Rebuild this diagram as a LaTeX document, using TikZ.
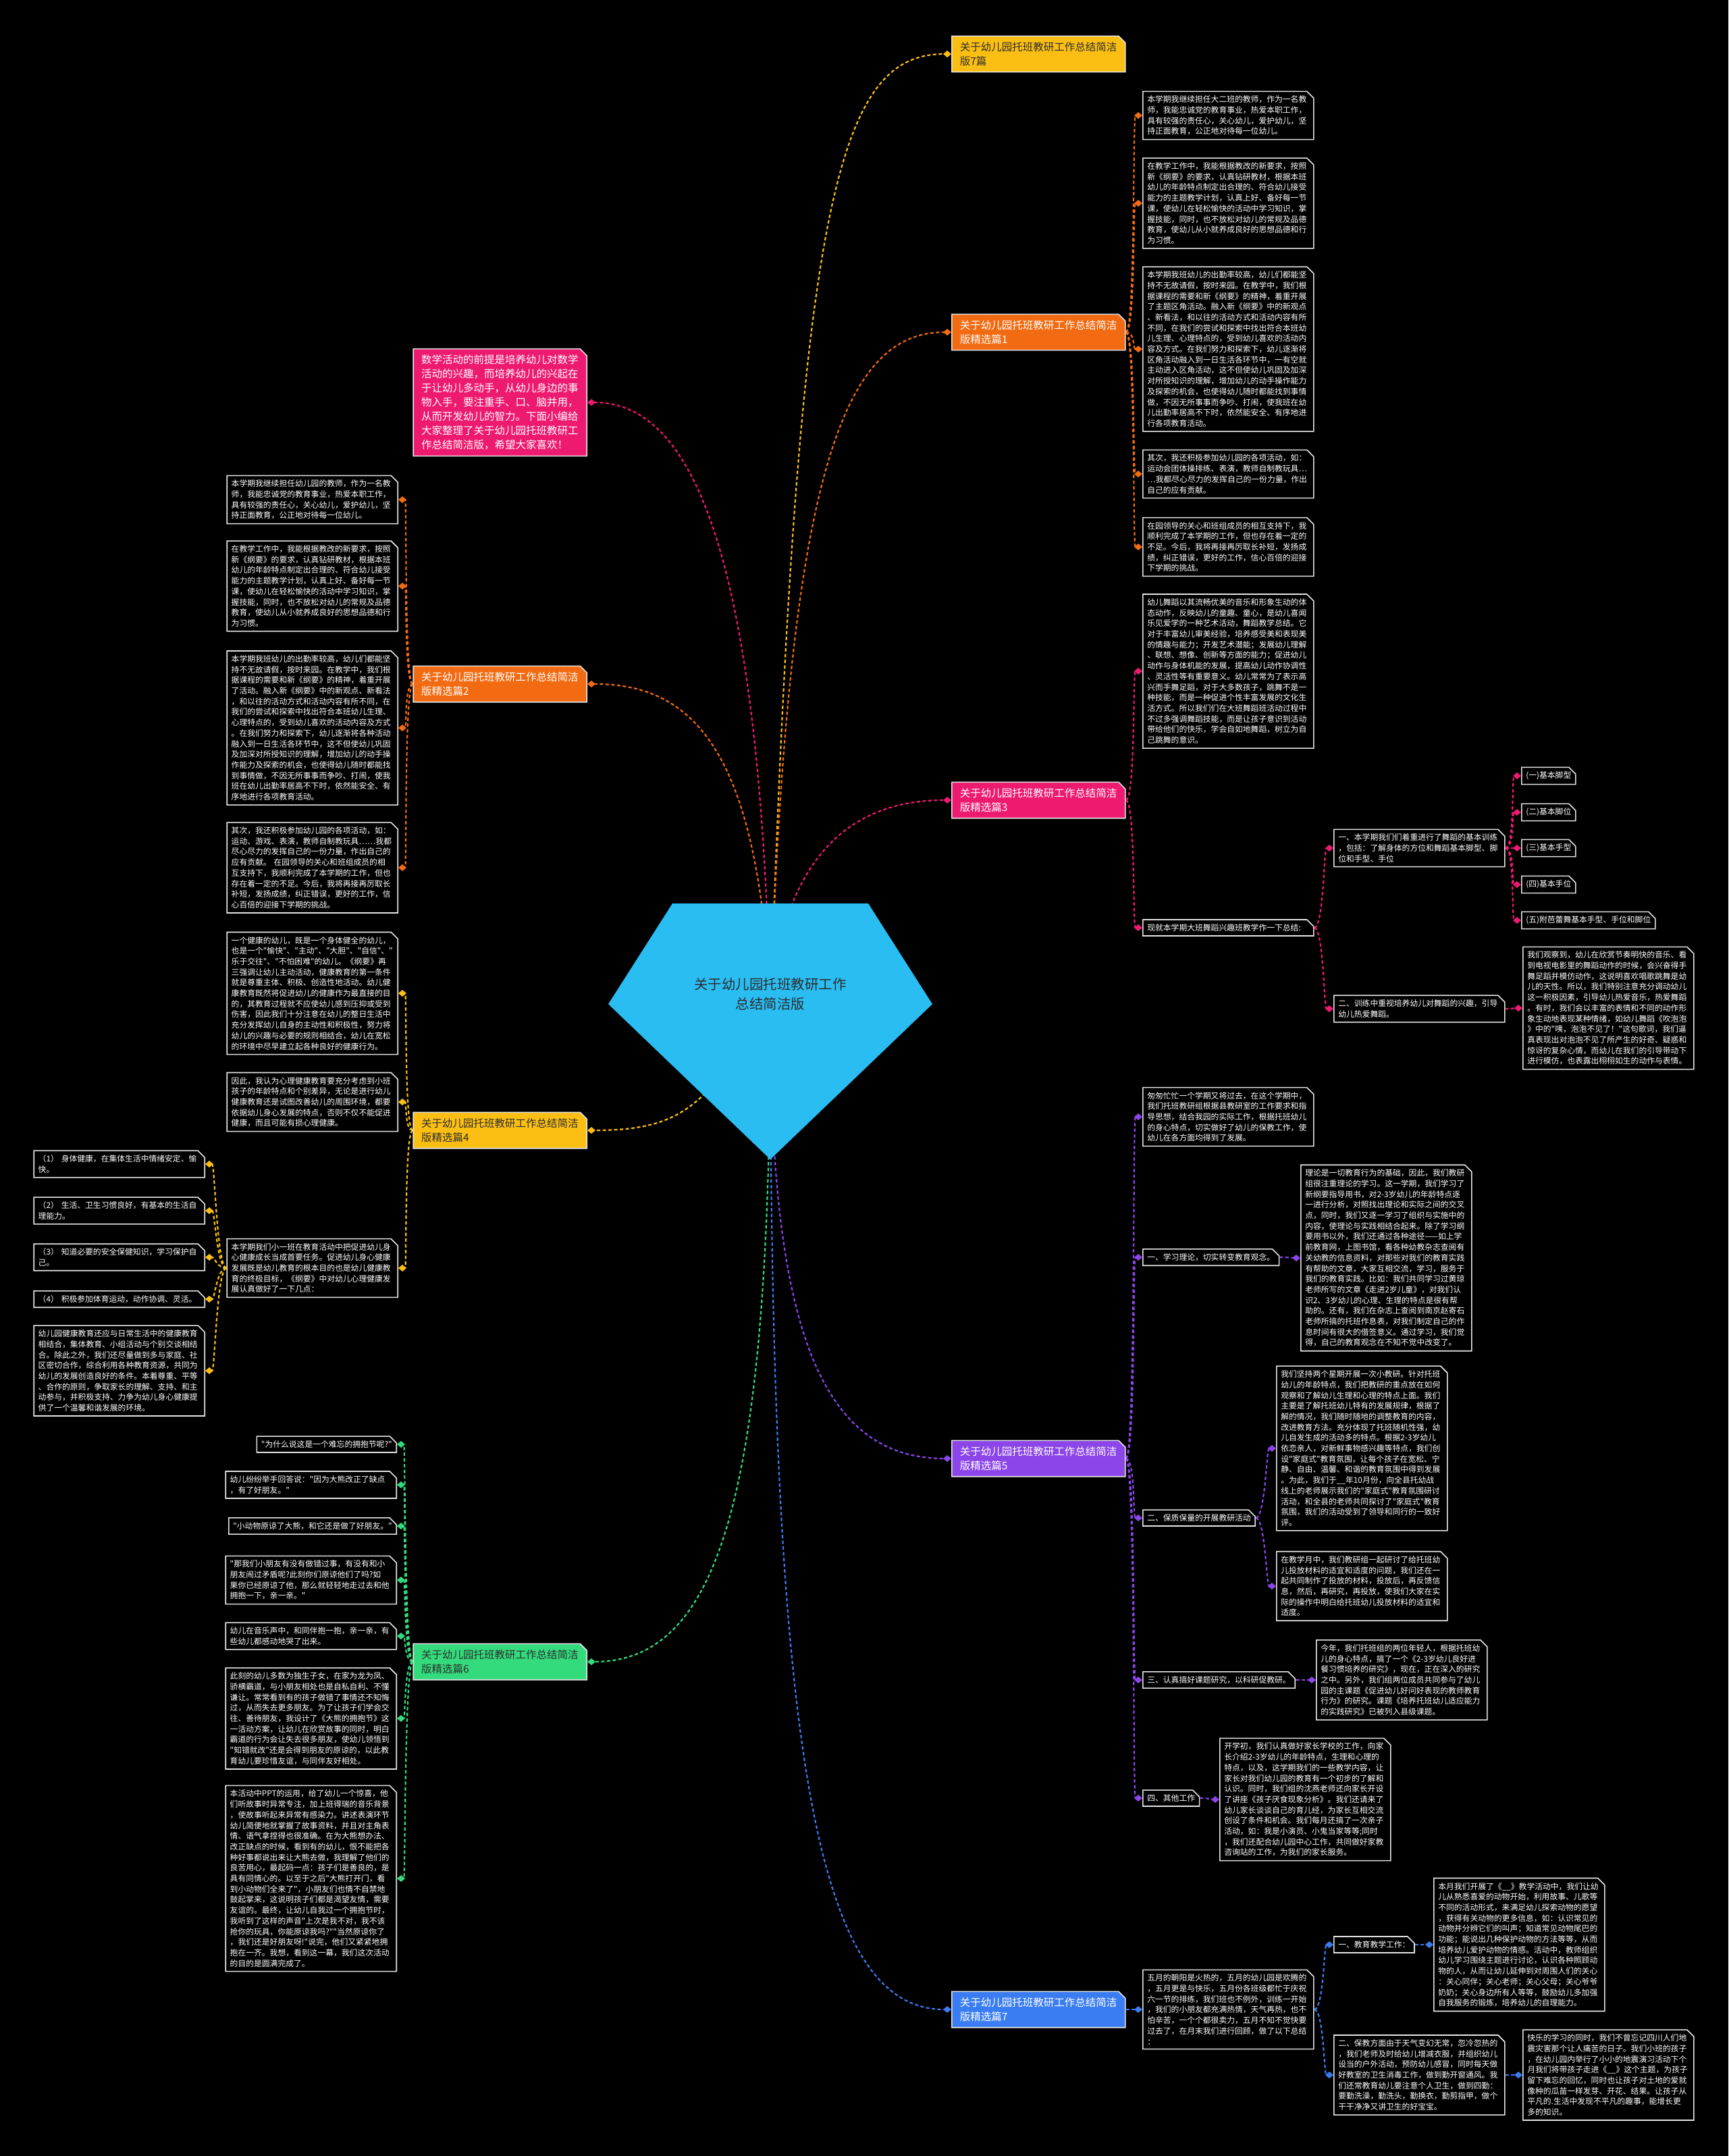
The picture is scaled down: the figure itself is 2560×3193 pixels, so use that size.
\documentclass[tikz,border=0pt]{standalone}
\usepackage{fontspec}
\setmainfont{Noto Sans CJK SC}[Ligatures=TeXOff]
\usetikzlibrary{shapes.misc,arrows.meta}
\pgfdeclarelayer{bg}
\pgfsetlayers{bg,main}
\definecolor{cAmber}{HTML}{FBBF14}
\definecolor{cOrange}{HTML}{F26B12}
\definecolor{cPink}{HTML}{EE1A70}
\definecolor{cPurple}{HTML}{8B45E8}
\definecolor{cBlue}{HTML}{3A7DF2}
\definecolor{cGreen}{HTML}{33DB7C}
\definecolor{cCyan}{HTML}{29BDF2}
\definecolor{cBorder}{HTML}{E4E4E4}
\definecolor{cDark}{HTML}{2E2E2E}
\begin{document}
\begin{tikzpicture}[x=1pt,y=-1pt,
  every node/.style={inner sep=0pt},
  basebox/.style={chamfered rectangle, chamfered rectangle corners=north east,
     chamfered rectangle xsep=5pt, chamfered rectangle ysep=5pt,
     draw=cBorder, line width=1.6pt, align=left},
  leaf/.style={basebox, fill=black, text=white, inner xsep=1.5pt, inner ysep=1.5pt,
     font=\fontsize{11.8}{15.7}\selectfont},
  wleaf/.style={leaf, text width=240pt},
  branch/.style={basebox, inner xsep=7pt, inner ysep=4pt, text width=233pt,
     font=\fontsize{15.5}{21}\selectfont},
  link/.style={dash pattern=on 5pt off 3.5pt, line width=2.2pt,
     -{Diamond[length=12pt,width=10pt]}},
]
\begin{pgfonlayer}{bg}
\fill[black] (0,0) rectangle (2560,3193);
\end{pgfonlayer}
\useasboundingbox (0,0) rectangle (2560,3193);

% centre
\fill[cCyan] (996,1338) -- (1286,1338) -- (1381,1487) -- (1141,1717) -- (901,1487) -- cycle;
\coordinate (c0) at (1141,1500);
\node[align=center, text=cDark, font=\fontsize{20.5}{29}\selectfont] (center) at (1141,1472)
  {关于幼儿园托班教研工作\\总结简洁版};

% ---------------- right branches ----------------
\node[branch, fill=cAmber, text=cDark, anchor=west] (T) at (1409,80) {关于幼儿园托班教研工作总结简洁\\版7篇};
\node[branch, fill=cOrange, text=white, anchor=west] (B1) at (1409,492) {关于幼儿园托班教研工作总结简洁\\版精选篇1};
\node[branch, fill=cPink, text=white, anchor=west] (B3) at (1409,1185) {关于幼儿园托班教研工作总结简洁\\版精选篇3};
\node[branch, fill=cPurple, text=white, anchor=west] (B5) at (1409,2160) {关于幼儿园托班教研工作总结简洁\\版精选篇5};
\node[branch, fill=cBlue, text=white, anchor=west] (B7) at (1409,2976) {关于幼儿园托班教研工作总结简洁\\版精选篇7};

% ---------------- left branches ----------------
\node[branch, fill=cPink, text=white, anchor=east] (intro) at (870,596) {数学活动的前提是培养幼儿对数学\\
活动的兴趣，而培养幼儿的兴起在\\
于让幼儿多动手，从幼儿身边的事\\
物入手，要注重手、口、脑并用，\\
从而开发幼儿的智力。下面小编给\\
大家整理了关于幼儿园托班教研工\\
作总结简洁版，希望大家喜欢！};
\node[branch, fill=cOrange, text=white, anchor=east] (B2) at (870,1013) {关于幼儿园托班教研工作总结简洁\\版精选篇2};
\node[branch, fill=cAmber, text=cDark, anchor=east] (B4) at (870,1674) {关于幼儿园托班教研工作总结简洁\\版精选篇4};
\node[branch, fill=cGreen, text=cDark, anchor=east] (B6) at (870,2461) {关于幼儿园托班教研工作总结简洁\\版精选篇6};

% ---------------- 篇1 ----------------
\node[wleaf, anchor=west] (r1a) at (1692,171) {本学期我继续担任大二班的教师，作为一名教\\
师，我能忠诚党的教育事业，热爱本职工作，\\
具有较强的责任心，关心幼儿，爱护幼儿，坚\\
持正面教育，公正地对待每一位幼儿。};
\node[wleaf, anchor=west] (r1b) at (1692,301) {在教学工作中，我能根据教改的新要求，按照\\
新《纲要》的要求，认真钻研教材，根据本班\\
幼儿的年龄特点制定出合理的、符合幼儿接受\\
能力的主题教学计划，认真上好、备好每一节\\
课，使幼儿在轻松愉快的活动中学习知识，掌\\
握技能，同时，也不放松对幼儿的常规及品德\\
教育，使幼儿从小就养成良好的思想品德和行\\
为习惯。};
\node[wleaf, anchor=west] (r1c) at (1692,517) {本学期我班幼儿的出勤率较高，幼儿们都能坚\\
持不无故请假，按时来园。在教学中，我们根\\
据课程的需要和新《纲要》的精神，着重开展\\
了主题区角活动。融入新《纲要》中的新观点\\
、新看法，和以往的活动方式和活动内容有所\\
不同，在我们的尝试和探索中找出符合本班幼\\
儿生理、心理特点的，受到幼儿喜欢的活动内\\
容及方式。在我们努力和探索下，幼儿逐渐将\\
区角活动融入到一日生活各环节中，一有空就\\
主动进入区角活动，这不但使幼儿巩固及加深\\
对所授知识的理解，增加幼儿的动手操作能力\\
及探索的机会，也使得幼儿随时都能找到事情\\
做，不因无所事事而争吵、打闹，使我班在幼\\
儿出勤率居高不下时，依然能安全、有序地进\\
行各项教育活动。};
\node[wleaf, anchor=west] (r1d) at (1692,702) {其次，我还积极参加幼儿园的各项活动，如：\\
运动会团体操排练、表演，教师自制教玩具…\\
…我都尽心尽力的发挥自己的一份力量，作出\\
自己的应有贡献。};
\node[wleaf, anchor=west] (r1e) at (1692,810) {在园领导的关心和班组成员的相互支持下，我\\
顺利完成了本学期的工作，但也存在着一定的\\
不足。今后，我将再接再厉取长补短，发扬成\\
绩，纠正错误，更好的工作，信心百倍的迎接\\
下学期的挑战。};

% ---------------- 篇3 ----------------
\node[wleaf, anchor=west] (r3a) at (1692,994) {幼儿舞蹈以其流畅优美的音乐和形象生动的体\\
态动作，反映幼儿的童趣、童心，是幼儿喜闻\\
乐见爱学的一种艺术活动，舞蹈教学总结。它\\
对于丰富幼儿审美经验，培养感受美和表现美\\
的情趣与能力；开发艺术潜能；发展幼儿理解\\
、联想、想像、创新等方面的能力；促进幼儿\\
动作与身体机能的发展，提高幼儿动作协调性\\
、灵活性等有重要意义。幼儿常常为了表示高\\
兴而手舞足蹈，对于大多数孩子，跳舞不是一\\
种技能，而是一种促进个性丰富发展的文化生\\
活方式。所以我们们在大班舞蹈班活动过程中\\
不过多强调舞蹈技能，而是让孩子意识到活动\\
带给他们的快乐，学会自如地舞蹈，树立为自\\
己跳舞的意识。};
\node[wleaf, anchor=west] (r3b) at (1692,1374) {现就本学期大班舞蹈兴趣班教学作一下总结:};
\node[wleaf, anchor=west] (r3b1) at (1975,1256) {一、本学期我们们着重进行了舞蹈的基本训练\\
，包括：了解身体的方位和舞蹈基本脚型、脚\\
位和手型、手位};
\node[leaf, anchor=west] (r3b1a) at (2253,1149) {(一)基本脚型};
\node[leaf, anchor=west] (r3b1b) at (2253,1203) {(二)基本脚位};
\node[leaf, anchor=west] (r3b1c) at (2253,1256) {(三)基本手型};
\node[leaf, anchor=west] (r3b1d) at (2253,1310) {(四)基本手位};
\node[leaf, anchor=west] (r3b1e) at (2253,1363) {(五)附芭蕾舞基本手型、手位和脚位};
\node[wleaf, anchor=west] (r3b2) at (1975,1494) {二、训练中重视培养幼儿对舞蹈的兴趣，引导\\
幼儿热爱舞蹈。};
\node[wleaf, anchor=west] (r3b2a) at (2255,1493) {我们观察到，幼儿在欣赏节奏明快的音乐、看\\
到电视电影里的舞蹈动作的时候，会兴奋得手\\
舞足蹈并模仿动作，这说明喜欢唱歌跳舞是幼\\
儿的天性。所以，我们特别注意充分调动幼儿\\
这一积极因素，引导幼儿热爱音乐，热爱舞蹈\\
。有时，我们会以丰富的表情和不同的动作形\\
象生动地表现某种情绪，如幼儿舞蹈《吹泡泡\\
》中的"咦，泡泡不见了！"这句歌词，我们逼\\
真表现出对泡泡不见了所产生的好奇、疑惑和\\
惊讶的复杂心情，而幼儿在我们的引导带动下\\
进行模仿，也表露出栩栩如生的动作与表情。};

% ---------------- 篇5 ----------------
\node[wleaf, anchor=west] (r5a) at (1692,1654) {匆匆忙忙一个学期又将过去，在这个学期中，\\
我们托班教研组根据县教研室的工作要求和指\\
导思想，结合我园的实际工作，根据托班幼儿\\
的身心特点，切实做好了幼儿的保教工作，使\\
幼儿在各方面均得到了发展。};
\node[leaf, anchor=west] (r5b) at (1692,1862) {一、学习理论，切实转变教育观念。};
\node[wleaf, anchor=west] (r5b1) at (1926,1863) {理论是一切教育行为的基础，因此，我们教研\\
组很注重理论的学习。这一学期，我们学习了\\
新纲要指导用书，对2-3岁幼儿的年龄特点逐\\
一进行分析，对照找出理论和实际之间的交叉\\
点，同时，我们又逐一学习了组织与实施中的\\
内容，使理论与实践相结合起来。除了学习纲\\
要用书以外，我们还通过各种途径——如上学\\
前教育网，上图书馆，看各种幼教杂志查阅有\\
关幼教的信息资料，对那些对我们的教育实践\\
有帮助的文章，大家互相交流，学习，服务于\\
我们的教育实践。比如：我们共同学习过黄琼\\
老师所写的文章《走进2岁儿童》，对我们认\\
识2、3岁幼儿的心理、生理的特点是很有帮\\
助的。还有，我们在杂志上查阅到南京赵寄石\\
老师所搞的托班作息表，对我们制定自己的作\\
息时间有很大的借签意义。通过学习，我们觉\\
得，自己的教育观念在不知不觉中改变了。};
\node[leaf, anchor=west] (r5c) at (1692,2248) {二、保质保量的开展教研活动};
\node[wleaf, anchor=west] (r5c1) at (1890,2145) {我们坚持两个星期开展一次小教研。针对托班\\
幼儿的年龄特点，我们把教研的重点放在如何\\
观察和了解幼儿生理和心理的特点上面。我们\\
主要是了解托班幼儿特有的发展规律，根据了\\
解的情况，我们随时随地的调整教育的内容，\\
改进教育方法。充分体现了托班随机性强，幼\\
儿自发生成的活动多的特点。根据2-3岁幼儿\\
依恋亲人，对新鲜事物感兴趣等特点，我们创\\
设"家庭式"教育氛围，让每个孩子在宽松、宁\\
静、自由、温馨、和谐的教育氛围中得到发展\\
。为此，我们于\_\_年10月份，向全县托幼战\\
线上的老师展示我们的"家庭式"教育氛围研讨\\
活动，和全县的老师共同探讨了"家庭式"教育\\
氛围，我们的活动受到了领导和同行的一致好\\
评。};
\node[wleaf, anchor=west] (r5c2) at (1890,2349) {在教学月中，我们教研组一起研讨了给托班幼\\
儿投放材料的适宜和适度的问题，我们还在一\\
起共同制作了投放的材料，投放后，再反馈信\\
息，然后，再研究，再投放，使我们大家在实\\
际的操作中明白给托班幼儿投放材料的适宜和\\
适度。};
\node[leaf, anchor=west] (r5d) at (1692,2488) {三、认真搞好课题研究，以科研促教研。};
\node[wleaf, anchor=west] (r5d1) at (1949,2488) {今年，我们托班组的两位年轻人，根据托班幼\\
儿的身心特点，搞了一个《2-3岁幼儿良好进\\
餐习惯培养的研究》，现在，正在深入的研究\\
之中。另外，我们组两位成员共同参与了幼儿\\
园的主课题《促进幼儿好问好表现的教师教育\\
行为》的研究。课题《培养托班幼儿适应能力\\
的实践研究》已被列入县级课题。};
\node[leaf, anchor=west] (r5e) at (1692,2663) {四、其他工作};
\node[wleaf, anchor=west] (r5e1) at (1806,2665) {开学初，我们认真做好家长学校的工作，向家\\
长介绍2-3岁幼儿的年龄特点，生理和心理的\\
特点，以及，这学期我们的一些教学内容，让\\
家长对我们幼儿园的教育有一个初步的了解和\\
认识。同时，我们组的沈燕老师还向家长开设\\
了讲座《孩子厌食现象分析》。我们还请来了\\
幼儿家长谈谈自己的育儿经，为家长互相交流\\
创设了条件和机会。我们每月还搞了一次亲子\\
活动，如：我是小演员、小鬼当家等等;同时\\
，我们还配合幼儿园中心工作，共同做好家教\\
咨询站的工作，为我们的家长服务。};

% ---------------- 篇7 ----------------
\node[wleaf, anchor=west] (r7a) at (1692,2976) {五月的朝阳是火热的，五月的幼儿园是欢腾的\\
，五月更是与快乐，五月份各班级都忙于庆祝\\
六一节的排练，我们班也不例外，训练一开始\\
，我们的小朋友都充满热情，天气再热，也不\\
怕辛苦，一个个都很卖力，五月不知不觉快要\\
过去了，在月末我们进行回顾，做了以下总结\\
：};
\node[leaf, anchor=west] (r7a1) at (1975,2880) {一、教育教学工作：};
\node[wleaf, anchor=west] (r7a1a) at (2123,2880) {本月我们开展了《\_\_》教学活动中，我们让幼\\
儿从熟悉喜爱的动物开始，利用故事、儿歌等\\
不同的活动形式，来满足幼儿探索动物的愿望\\
，获得有关动物的更多信息，如：认识常见的\\
动物并分辨它们的叫声；知道常见动物尾巴的\\
功能；能说出几种保护动物的方法等等，从而\\
培养幼儿爱护动物的情感。活动中，教师组织\\
幼儿学习围绕主题进行讨论，认识各种照顾动\\
物的人，从而让幼儿延伸到对周围人们的关心\\
：关心同伴；关心老师；关心父母；关心爷爷\\
奶奶；关心身边所有人等等，鼓励幼儿多加强\\
自我服务的锻炼，培养幼儿的自理能力。};
\node[wleaf, anchor=west] (r7a2) at (1975,3073) {二、保教方面由于天气变幻无常，忽冷忽热的\\
，我们老师及时给幼儿增减衣服，并组织幼儿\\
设当的户外活动，预防幼儿感冒，同时每天做\\
好教室的卫生消毒工作，做到勤开窗通风。我\\
们还常教育幼儿要注意个人卫生，做到四勤：\\
要勤洗澡，勤洗头，勤换衣，勤剪指甲，做个\\
干干净净又讲卫生的好宝宝。};
\node[wleaf, anchor=west] (r7a2a) at (2255,3073) {快乐的学习的同时，我们不曾忘记四川人们地\\
震灾害那个让人痛苦的日子。我们小班的孩子\\
，在幼儿园内举行了小小的地震演习活动下个\\
月我们将带孩子走进《\_\_》这个主题，为孩子\\
留下难忘的回忆，同时也让孩子对土地的爱就\\
像种的瓜苗一样发芽、开花、结果。让孩子从\\
平凡的.生活中发现不平凡的趣事，能增长更\\
多的知识。};

% ---------------- 篇2 ----------------
\node[wleaf, anchor=east] (l2a) at (590,740) {本学期我继续担任幼儿园的教师，作为一名教\\
师，我能忠诚党的教育事业，热爱本职工作，\\
具有较强的责任心，关心幼儿，爱护幼儿，坚\\
持正面教育，公正地对待每一位幼儿。};
\node[wleaf, anchor=east] (l2b) at (590,868) {在教学工作中，我能根据教改的新要求，按照\\
新《纲要》的要求，认真钻研教材，根据本班\\
幼儿的年龄特点制定出合理的、符合幼儿接受\\
能力的主题教学计划，认真上好、备好每一节\\
课，使幼儿在轻松愉快的活动中学习知识，掌\\
握技能，同时，也不放松对幼儿的常规及品德\\
教育，使幼儿从小就养成良好的思想品德和行\\
为习惯。};
\node[wleaf, anchor=east] (l2c) at (590,1078) {本学期我班幼儿的出勤率较高，幼儿们都能坚\\
持不无故请假，按时来园。在教学中，我们根\\
据课程的需要和新《纲要》的精神，着重开展\\
了活动。融入新《纲要》中的新观点、新看法\\
，和以往的活动方式和活动内容有所不同，在\\
我们的尝试和探索中找出符合本班幼儿生理、\\
心理特点的，受到幼儿喜欢的活动内容及方式\\
。在我们努力和探索下，幼儿逐渐将各种活动\\
融入到一日生活各环节中，这不但使幼儿巩固\\
及加深对所授知识的理解，增加幼儿的动手操\\
作能力及探索的机会，也使得幼儿随时都能找\\
到事情做，不因无所事事而争吵、打闹，使我\\
班在幼儿出勤率居高不下时，依然能安全、有\\
序地进行各项教育活动。};
\node[wleaf, anchor=east] (l2d) at (590,1285) {其次，我还积极参加幼儿园的各项活动，如：\\
运动、游戏、表演，教师自制教玩具……我都\\
尽心尽力的发挥自己的一份力量，作出自己的\\
应有贡献。 在园领导的关心和班组成员的相\\
互支持下，我顺利完成了本学期的工作，但也\\
存在着一定的不足。今后，我将再接再厉取长\\
补短，发扬成绩，纠正错误，更好的工作，信\\
心百倍的迎接下学期的挑战。};

% ---------------- 篇4 ----------------
\node[wleaf, anchor=east] (l4a) at (590,1471) {一个健康的幼儿，既是一个身体健全的幼儿，\\
也是一个"愉快"、"主动"、"大胆"、"自信"、"\\
乐于交往"、"不怕困难"的幼儿。《纲要》再\\
三强调让幼儿主动活动，健康教育的第一条件\\
就是尊重主体、积极、创造性地活动。幼儿健\\
康教育既然将促进幼儿的健康作为最直接的目\\
的，其教育过程就不应使幼儿感到压抑或受到\\
伤害，因此我们十分注意在幼儿的整日生活中\\
充分发挥幼儿自身的主动性和积极性，努力将\\
幼儿的兴趣与必要的规则相结合，幼儿在宽松\\
的环境中尽早建立起各种良好的健康行为。};
\node[wleaf, anchor=east] (l4b) at (590,1632) {因此，我认为心理健康教育要充分考虑到小班\\
孩子的年龄特点和个别差异，无论是进行幼儿\\
健康教育还是试图改善幼儿的周围环境，都要\\
依据幼儿身心发展的特点，否则不仅不能促进\\
健康，而且可能有损心理健康。};
\node[wleaf, anchor=east] (l4c) at (590,1878) {本学期我们小一班在教育活动中把促进幼儿身\\
心健康成长当成首要任务。促进幼儿身心健康\\
发展既是幼儿教育的根本目的也是幼儿健康教\\
育的终极目标，《纲要》中对幼儿心理健康发\\
展认真做好了一下几点：};
\node[wleaf, anchor=east] (l4c1) at (304,1724) {（1） 身体健康，在集体生活中情绪安定、愉\\快。};
\node[wleaf, anchor=east] (l4c2) at (304,1793) {（2） 生活、卫生习惯良好，有基本的生活自\\理能力。};
\node[wleaf, anchor=east] (l4c3) at (304,1862) {（3） 知道必要的安全保健知识，学习保护自\\己。};
\node[wleaf, anchor=east] (l4c4) at (304,1924) {（4） 积极参加体育运动，动作协调、灵活。};
\node[wleaf, anchor=east] (l4c5) at (304,2030) {幼儿园健康教育还应与日常生活中的健康教育\\
相结合，集体教育、小组活动与个别交谈相结\\
合。除此之外，我们还尽量做到多与家庭、社\\
区密切合作，综合利用各种教育资源，共同为\\
幼儿的发展创造良好的条件。本着尊重、平等\\
、合作的原则，争取家长的理解、支持、和主\\
动参与，并积极支持、力争为幼儿身心健康提\\
供了一个温馨和谐发展的环境。};

% ---------------- 篇6 ----------------
\node[leaf, anchor=east] (l6a) at (588,2139) {"为什么说这是一个难忘的拥抱节呢?"};
\node[wleaf, anchor=east] (l6b) at (588,2199) {幼儿纷纷举手回答说："因为大熊改正了缺点\\，有了好朋友。"};
\node[leaf, anchor=east] (l6c) at (588,2260) {"小动物原谅了大熊，和它还是做了好朋友。"};
\node[wleaf, anchor=east] (l6d) at (588,2340) {"那我们小朋友有没有做错过事，有没有和小\\
朋友闹过矛盾呢?此刻你们原谅他们了吗?如\\
果你已经原谅了他，那么就轻轻地走过去和他\\
拥抱一下，亲一亲。"};
\node[wleaf, anchor=east] (l6e) at (588,2423) {幼儿在音乐声中，和同伴抱一抱，亲一亲，有\\
些幼儿都感动地哭了出来。};
\node[wleaf, anchor=east] (l6f) at (588,2545) {此刻的幼儿多数为独生子女，在家为龙为凤、\\
骄横霸道，与小朋友相处也是自私自利、不懂\\
谦让。常常看到有的孩子做错了事情还不知悔\\
过，从而失去更多朋友。为了让孩子们学会交\\
往、善待朋友，我设计了《大熊的拥抱节》这\\
一活动方案，让幼儿在欣赏故事的同时，明白\\
霸道的行为会让失去很多朋友，使幼儿领悟到\\
"知错就改"还是会得到朋友的原谅的，以此教\\
育幼儿要珍惜友谊，与同伴友好相处。};
\node[wleaf, anchor=east] (l6g) at (588,2782) {本活动中PPT的运用，给了幼儿一个惊喜，他\\
们听故事时异常专注，加上班得瑞的音乐背景\\
，使故事听起来异常有感染力。讲述表演环节\\
幼儿简便地就掌握了故事资料，并且对主角表\\
情、语气拿捏得也很准确。在为大熊想办法、\\
改正缺点的时候，看到有的幼儿，恨不能把各\\
种好事都说出来让大熊去做，我理解了他们的\\
良苦用心，最起码一点：孩子们是善良的，是\\
具有同情心的。以至于之后"大熊打开门，看\\
到小动物们全来了"，小朋友们也情不自禁地\\
鼓起掌来，这说明孩子们都是渴望友情，需要\\
友谊的。最终，让幼儿自我过一个拥抱节时，\\
我听到了这样的声音"上次是我不对，我不该\\
抢你的玩具，你能原谅我吗?""当然原谅你了\\
，我们还是好朋友呀!"说完，他们又紧紧地拥\\
抱在一齐。我想，看到这一幕，我们这次活动\\
的目的是圆满完成了。};

% ---------------- connectors ----------------
\begin{pgfonlayer}{bg}
\draw[link, cAmber] (c0) .. controls +(40,-1200) and +(-170,0) .. (T.west);
\draw[link, cOrange] (c0) .. controls +(25,-800) and +(-160,0) .. (B1.west);
\draw[link, cPink] (c0) .. controls +(15,-230) and +(-150,0) .. (B3.west);
\draw[link, cPink] (c0) .. controls +(-15,-700) and +(150,0) .. (intro.east);
\draw[link, cOrange] (c0) .. controls +(-15,-400) and +(150,0) .. (B2.east);
\draw[link, cAmber] (c0) .. controls +(-100,130) and +(150,0) .. (B4.east);
\draw[link, cPurple] (c0) .. controls +(0,450) and +(-200,0) .. (B5.west);
\draw[link, cGreen] (c0) .. controls +(0,700) and +(200,0) .. (B6.east);
\draw[link, cBlue] (c0) .. controls +(0,1100) and +(-200,0) .. (B7.west);

\foreach \n in {r1a,r1b,r1c,r1d,r1e}
  \draw[link, cOrange] (B1.east) .. controls +(14,0) and +(-14,0) .. (\n.west);
\foreach \n in {r3a,r3b}
  \draw[link, cPink] (B3.east) .. controls +(14,0) and +(-14,0) .. (\n.west);
\foreach \n in {r3b1,r3b2}
  \draw[link, cPink] (r3b.east) .. controls +(14,0) and +(-14,0) .. (\n.west);
\foreach \n in {r3b1a,r3b1b,r3b1c,r3b1d,r3b1e}
  \draw[link, cPink] (r3b1.east) .. controls +(14,0) and +(-14,0) .. (\n.west);
\draw[link, cPink] (r3b2.east) .. controls +(14,0) and +(-14,0) .. (r3b2a.west);

\foreach \n in {r5a,r5b,r5c,r5d,r5e}
  \draw[link, cPurple] (B5.east) .. controls +(14,0) and +(-14,0) .. (\n.west);
\draw[link, cPurple] (r5b.east) .. controls +(14,0) and +(-14,0) .. (r5b1.west);
\foreach \n in {r5c1,r5c2}
  \draw[link, cPurple] (r5c.east) .. controls +(14,0) and +(-14,0) .. (\n.west);
\draw[link, cPurple] (r5d.east) .. controls +(14,0) and +(-14,0) .. (r5d1.west);
\draw[link, cPurple] (r5e.east) .. controls +(14,0) and +(-14,0) .. (r5e1.west);

\draw[link, cBlue] (B7.east) .. controls +(14,0) and +(-14,0) .. (r7a.west);
\foreach \n in {r7a1,r7a2}
  \draw[link, cBlue] (r7a.east) .. controls +(14,0) and +(-14,0) .. (\n.west);
\draw[link, cBlue] (r7a1.east) .. controls +(14,0) and +(-14,0) .. (r7a1a.west);
\draw[link, cBlue] (r7a2.east) .. controls +(14,0) and +(-14,0) .. (r7a2a.west);

\foreach \n in {l2a,l2b,l2c,l2d}
  \draw[link, cOrange] (B2.west) .. controls +(-12,0) and +(12,0) .. (\n.east);
\foreach \n in {l4a,l4b,l4c}
  \draw[link, cAmber] (B4.west) .. controls +(-12,0) and +(12,0) .. (\n.east);
\foreach \n in {l4c1,l4c2,l4c3,l4c4,l4c5}
  \draw[link, cAmber] (l4c.west) .. controls +(-14,0) and +(14,0) .. (\n.east);
\foreach \n in {l6a,l6b,l6c,l6d,l6e,l6f,l6g}
  \draw[link, cGreen] (B6.west) .. controls +(-12,0) and +(12,0) .. (\n.east);
\end{pgfonlayer}
\end{tikzpicture}
\end{document}
